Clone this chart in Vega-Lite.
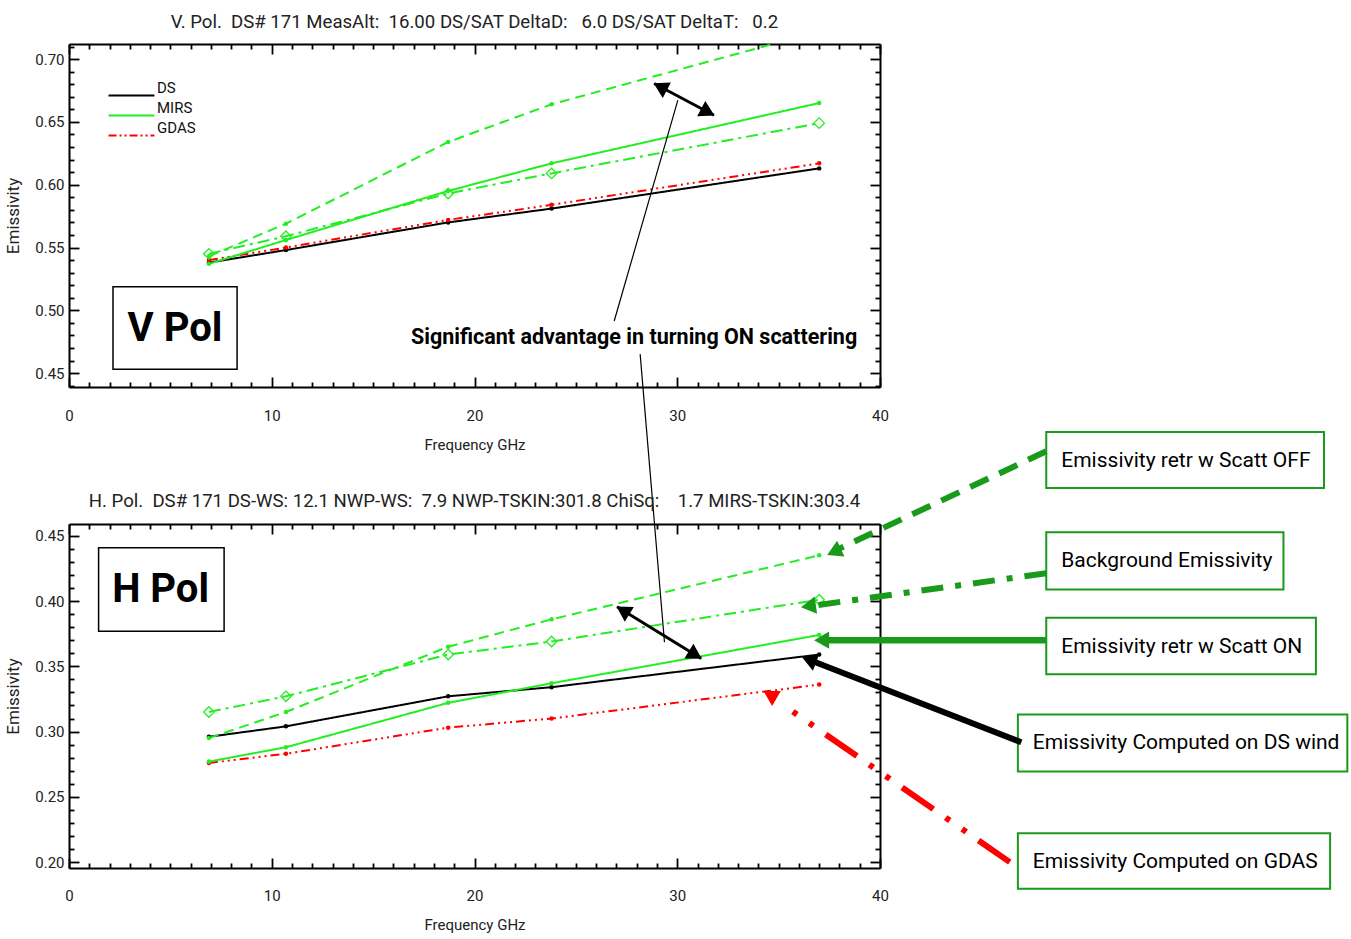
{
  "$schema": "https://vega.github.io/schema/vega-lite/v6.json",
  "background": "white",
  "padding": {"left": 4, "top": 12, "right": 2, "bottom": 2},
  "config": {
    "font": "Roboto",
    "view": {"stroke": null},
    "axis": {"domainColor": "#000", "domainWidth": 2, "tickColor": "#000", "tickWidth": 1.8, "labelFont": "Roboto", "labelFontSize": 15, "labelColor": "#222", "titleFont": "Roboto", "titleFontSize": 15, "titleFontWeight": "normal", "titleColor": "#222", "grid": false},
    "title": {"font": "Roboto", "fontSize": 18.6, "fontWeight": "normal", "color": "#222", "frame": "group", "baseline": "alphabetic"}
  },
  "datasets": {
    "series": [
      {"pol": "V", "source": "DS", "retrieval": "DS wind", "freq": 6.9, "emis": 0.538},
      {"pol": "V", "source": "DS", "retrieval": "DS wind", "freq": 10.7, "emis": 0.548},
      {"pol": "V", "source": "DS", "retrieval": "DS wind", "freq": 18.7, "emis": 0.570},
      {"pol": "V", "source": "DS", "retrieval": "DS wind", "freq": 23.8, "emis": 0.581},
      {"pol": "V", "source": "DS", "retrieval": "DS wind", "freq": 37.0, "emis": 0.613},
      {"pol": "V", "source": "GDAS", "retrieval": "GDAS", "freq": 6.9, "emis": 0.540},
      {"pol": "V", "source": "GDAS", "retrieval": "GDAS", "freq": 10.7, "emis": 0.550},
      {"pol": "V", "source": "GDAS", "retrieval": "GDAS", "freq": 18.7, "emis": 0.572},
      {"pol": "V", "source": "GDAS", "retrieval": "GDAS", "freq": 23.8, "emis": 0.584},
      {"pol": "V", "source": "GDAS", "retrieval": "GDAS", "freq": 37.0, "emis": 0.617},
      {"pol": "V", "source": "MIRS", "retrieval": "Scatt ON", "freq": 6.9, "emis": 0.537},
      {"pol": "V", "source": "MIRS", "retrieval": "Scatt ON", "freq": 10.7, "emis": 0.556},
      {"pol": "V", "source": "MIRS", "retrieval": "Scatt ON", "freq": 18.7, "emis": 0.595},
      {"pol": "V", "source": "MIRS", "retrieval": "Scatt ON", "freq": 23.8, "emis": 0.617},
      {"pol": "V", "source": "MIRS", "retrieval": "Scatt ON", "freq": 37.0, "emis": 0.665},
      {"pol": "V", "source": "MIRS", "retrieval": "Scatt OFF", "freq": 6.9, "emis": 0.543},
      {"pol": "V", "source": "MIRS", "retrieval": "Scatt OFF", "freq": 10.7, "emis": 0.569},
      {"pol": "V", "source": "MIRS", "retrieval": "Scatt OFF", "freq": 18.7, "emis": 0.634},
      {"pol": "V", "source": "MIRS", "retrieval": "Scatt OFF", "freq": 23.8, "emis": 0.664},
      {"pol": "V", "source": "MIRS", "retrieval": "Scatt OFF", "freq": 37.0, "emis": 0.722},
      {"pol": "V", "source": "MIRS", "retrieval": "Background", "freq": 6.9, "emis": 0.545},
      {"pol": "V", "source": "MIRS", "retrieval": "Background", "freq": 10.7, "emis": 0.559},
      {"pol": "V", "source": "MIRS", "retrieval": "Background", "freq": 18.7, "emis": 0.593},
      {"pol": "V", "source": "MIRS", "retrieval": "Background", "freq": 23.8, "emis": 0.609},
      {"pol": "V", "source": "MIRS", "retrieval": "Background", "freq": 37.0, "emis": 0.649},
      {"pol": "H", "source": "DS", "retrieval": "DS wind", "freq": 6.9, "emis": 0.296},
      {"pol": "H", "source": "DS", "retrieval": "DS wind", "freq": 10.7, "emis": 0.304},
      {"pol": "H", "source": "DS", "retrieval": "DS wind", "freq": 18.7, "emis": 0.327},
      {"pol": "H", "source": "DS", "retrieval": "DS wind", "freq": 23.8, "emis": 0.334},
      {"pol": "H", "source": "DS", "retrieval": "DS wind", "freq": 37.0, "emis": 0.359},
      {"pol": "H", "source": "GDAS", "retrieval": "GDAS", "freq": 6.9, "emis": 0.276},
      {"pol": "H", "source": "GDAS", "retrieval": "GDAS", "freq": 10.7, "emis": 0.283},
      {"pol": "H", "source": "GDAS", "retrieval": "GDAS", "freq": 18.7, "emis": 0.303},
      {"pol": "H", "source": "GDAS", "retrieval": "GDAS", "freq": 23.8, "emis": 0.310},
      {"pol": "H", "source": "GDAS", "retrieval": "GDAS", "freq": 37.0, "emis": 0.336},
      {"pol": "H", "source": "MIRS", "retrieval": "Scatt ON", "freq": 6.9, "emis": 0.277},
      {"pol": "H", "source": "MIRS", "retrieval": "Scatt ON", "freq": 10.7, "emis": 0.288},
      {"pol": "H", "source": "MIRS", "retrieval": "Scatt ON", "freq": 18.7, "emis": 0.322},
      {"pol": "H", "source": "MIRS", "retrieval": "Scatt ON", "freq": 23.8, "emis": 0.337},
      {"pol": "H", "source": "MIRS", "retrieval": "Scatt ON", "freq": 37.0, "emis": 0.374},
      {"pol": "H", "source": "MIRS", "retrieval": "Scatt OFF", "freq": 6.9, "emis": 0.295},
      {"pol": "H", "source": "MIRS", "retrieval": "Scatt OFF", "freq": 10.7, "emis": 0.315},
      {"pol": "H", "source": "MIRS", "retrieval": "Scatt OFF", "freq": 18.7, "emis": 0.365},
      {"pol": "H", "source": "MIRS", "retrieval": "Scatt OFF", "freq": 23.8, "emis": 0.386},
      {"pol": "H", "source": "MIRS", "retrieval": "Scatt OFF", "freq": 37.0, "emis": 0.435},
      {"pol": "H", "source": "MIRS", "retrieval": "Background", "freq": 6.9, "emis": 0.315},
      {"pol": "H", "source": "MIRS", "retrieval": "Background", "freq": 10.7, "emis": 0.327},
      {"pol": "H", "source": "MIRS", "retrieval": "Background", "freq": 18.7, "emis": 0.359},
      {"pol": "H", "source": "MIRS", "retrieval": "Background", "freq": 23.8, "emis": 0.369},
      {"pol": "H", "source": "MIRS", "retrieval": "Background", "freq": 37.0, "emis": 0.401}
    ],
    "polboxes": [
      {"pol": "V", "label": "V Pol", "x": 2.17, "x2": 8.29, "y": 0.5187, "y2": 0.4532},
      {"pol": "H", "label": "H Pol", "x": 1.46, "x2": 7.65, "y": 0.4408, "y2": 0.3769}
    ],
    "callout": [
      {"pol": "V", "label": "Significant advantage in turning ON scattering", "x": 27.87, "y": 0.478}
    ],
    "notes": [
      {"note": "Emissivity retr w Scatt OFF", "x": 48.2, "x2": 61.9, "y": 0.5295, "y2": 0.4866},
      {"note": "Background Emissivity", "x": 48.2, "x2": 59.9, "y": 0.4526, "y2": 0.4089},
      {"note": "Emissivity retr w Scatt ON", "x": 48.2, "x2": 61.5, "y": 0.3871, "y2": 0.3439},
      {"note": "Emissivity Computed on DS wind", "x": 46.8, "x2": 63.05, "y": 0.3131, "y2": 0.2694},
      {"note": "Emissivity Computed on GDAS", "x": 46.8, "x2": 62.2, "y": 0.2222, "y2": 0.1796}
    ],
    "segments": [
      {"pol": "V", "arrow": "double", "x": 28.86, "y": 0.6806, "x2": 31.81, "y2": 0.6553},
      {"pol": "V", "arrow": "pointer", "x": 26.89, "y": 0.4915, "x2": 30.03, "y2": 0.6673},
      {"pol": "V", "arrow": "pointer", "x": 28.17, "y": 0.4652, "x2": 29.37, "y2": 0.2359},
      {"pol": "H", "arrow": "double", "x": 27.03, "y": 0.3956, "x2": 31.18, "y2": 0.356},
      {"pol": "H", "arrow": "Scatt OFF", "x": 48.2, "y": 0.5147, "x2": 37.7, "y2": 0.438},
      {"pol": "H", "arrow": "Background", "x": 48.2, "y": 0.4213, "x2": 36.5, "y2": 0.396},
      {"pol": "H", "arrow": "Scatt ON", "x": 48.2, "y": 0.37, "x2": 37.1, "y2": 0.37},
      {"pol": "H", "arrow": "DS wind", "x": 46.97, "y": 0.2918, "x2": 36.5, "y2": 0.355},
      {"pol": "H", "arrow": "GDAS", "x": 46.4, "y": 0.2, "x2": 35.47, "y2": 0.3178}
    ],
    "heads": [
      {"pol": "V", "arrow": "double-a", "x": 29.16, "y": 0.678},
      {"pol": "V", "arrow": "double-b", "x": 31.51, "y": 0.6578},
      {"pol": "H", "arrow": "double-a", "x": 27.32, "y": 0.3928},
      {"pol": "H", "arrow": "double-b", "x": 30.89, "y": 0.3587},
      {"pol": "H", "arrow": "Scatt OFF", "x": 37.73, "y": 0.4377},
      {"pol": "H", "arrow": "Background", "x": 36.47, "y": 0.3961},
      {"pol": "H", "arrow": "Scatt ON", "x": 37.12, "y": 0.37},
      {"pol": "H", "arrow": "DS wind", "x": 36.5, "y": 0.3549},
      {"pol": "H", "arrow": "GDAS", "x": 34.68, "y": 0.3254}
    ]
  },
  "spacing": 137,
  "bounds": "flush",
  "resolve": {"legend": {"color": "independent"}},
  "vconcat": [
    {
      "width": 811,
      "height": 343,
      "title": {"text": "V. Pol.\u00a0 DS# 171 MeasAlt:\u00a0 16.00 DS/SAT DeltaD:\u00a0\u00a0 6.0 DS/SAT DeltaT:\u00a0\u00a0 0.2", "offset": 8},
      "resolve": {"axis": {"x": "independent", "y": "independent"}},
      "encoding": {
        "x": {"field": "x", "type": "quantitative", "scale": {"domain": [0, 40], "nice": false, "zero": false}, "axis": null},
        "y": {"field": "y", "type": "quantitative", "scale": {"domain": [0.439, 0.712], "nice": false, "zero": false}, "axis": null}
      },
      "layer": [
        {
          "data": {"name": "series"},
          "transform": [{"filter": "datum.pol === 'V'"}],
          "mark": {"type": "line", "clip": true},
          "encoding": {
            "x": {"field": "freq", "type": "quantitative", "scale": {"domain": [0, 40], "nice": false, "zero": false},
              "axis": {"orient": "bottom", "values": [0,1,2,3,4,5,6,7,8,9,10,11,12,13,14,15,16,17,18,19,20,21,22,23,24,25,26,27,28,29,30,31,32,33,34,35,36,37,38,39,40], "labelExpr": "datum.value % 10 === 0 ? datum.label : ''", "tickSize": {"condition": {"test": "datum.value % 10 === 0", "value": -10}, "value": -5}, "labelPadding": 31, "title": "Frequency GHz", "titlePadding": 9, "labelFlush": false, "labelOverlap": false, "labelBound": false}},
            "y": {"field": "emis", "type": "quantitative", "scale": {"domain": [0.439, 0.712], "nice": false, "zero": false},
              "axis": {"orient": "left", "values": [0.44,0.45,0.46,0.47,0.48,0.49,0.5,0.51,0.52,0.53,0.54,0.55,0.56,0.57,0.58,0.59,0.6,0.61,0.62,0.63,0.64,0.65,0.66,0.67,0.68,0.69,0.7,0.71], "format": ".2f", "labelExpr": "abs(datum.value*20 - round(datum.value*20)) < 0.001 ? datum.label : ''", "tickSize": {"condition": {"test": "abs(datum.value*20 - round(datum.value*20)) < 0.001", "value": -10}, "value": -5}, "labelPadding": 15, "title": "Emissivity", "titleFontSize": 17, "titlePadding": 12, "labelFlush": false, "labelOverlap": false, "labelBound": false}},
            "color": {"field": "source", "type": "nominal", "scale": {"domain": ["DS", "MIRS", "GDAS"], "range": ["#000000", "#22ee22", "#ff0000"]},
              "legend": {"orient": "none", "legendX": 53, "legendY": 42, "title": null, "symbolType": "M-2.7,0H2.7", "symbolSize": 289, "symbolStrokeWidth": 2, "labelFont": "Roboto", "labelFontSize": 15, "labelColor": "#111", "labelOffset": 16, "labelBaseline": "bottom", "rowPadding": 0,
                "encode": {"symbols": {"update": {"strokeDash": {"signal": "datum.value === 'GDAS' ? [8,3,2,3,2,3] : [1,0]"}}}}}},
            "strokeDash": {"field": "retrieval", "type": "nominal", "scale": {"domain": ["DS wind", "GDAS", "Scatt ON", "Scatt OFF", "Background"], "range": [[1,0],[9,4,2,4,2,4,2,4],[1,0],[10,6],[12,5,3,5]]}, "legend": null},
            "strokeWidth": {"field": "retrieval", "type": "ordinal", "scale": {"domain": ["DS wind", "GDAS", "Scatt ON", "Scatt OFF", "Background"], "range": [2, 2, 2.5, 2.5, 1.5]}, "legend": null}
          }
        },
        {
          "data": {"name": "series"},
          "transform": [{"filter": "datum.pol === 'V' && datum.retrieval !== 'Background'"}],
          "mark": {"type": "point", "filled": true, "size": 20, "opacity": 1, "clip": true},
          "encoding": {
            "x": {"field": "freq", "type": "quantitative", "scale": {"domain": [0, 40], "nice": false, "zero": false},
              "axis": {"orient": "top", "values": [0,1,2,3,4,5,6,7,8,9,10,11,12,13,14,15,16,17,18,19,20,21,22,23,24,25,26,27,28,29,30,31,32,33,34,35,36,37,38,39,40], "labels": false, "title": null, "tickSize": {"condition": {"test": "datum.value % 10 === 0", "value": -10}, "value": -5}}},
            "y": {"field": "emis", "type": "quantitative", "scale": {"domain": [0.439, 0.712], "nice": false, "zero": false},
              "axis": {"orient": "right", "values": [0.44,0.45,0.46,0.47,0.48,0.49,0.5,0.51,0.52,0.53,0.54,0.55,0.56,0.57,0.58,0.59,0.6,0.61,0.62,0.63,0.64,0.65,0.66,0.67,0.68,0.69,0.7,0.71], "labels": false, "title": null, "tickSize": {"condition": {"test": "abs(datum.value*20 - round(datum.value*20)) < 0.001", "value": -10}, "value": -5}}},
            "color": {"field": "source", "type": "nominal", "scale": {"domain": ["DS", "MIRS", "GDAS"], "range": ["#000000", "#22ee22", "#ff0000"]}, "legend": null}
          }
        },
        {
          "data": {"name": "series"},
          "transform": [{"filter": "datum.pol === 'V' && datum.retrieval === 'Background'"}],
          "mark": {"type": "point", "shape": "diamond", "filled": false, "size": 110, "strokeWidth": 1.3, "color": "#22ee22", "opacity": 1, "clip": true},
          "encoding": {
            "x": {"field": "freq", "type": "quantitative", "scale": {"domain": [0, 40], "nice": false, "zero": false}, "axis": null},
            "y": {"field": "emis", "type": "quantitative", "scale": {"domain": [0.439, 0.712], "nice": false, "zero": false}, "axis": null}
          }
        },
        {
          "data": {"name": "polboxes"},
          "transform": [{"filter": "datum.pol === 'V'"}],
          "mark": {"type": "rect", "fill": "white", "stroke": "#000", "strokeWidth": 1.5},
          "encoding": {"x2": {"field": "x2"}, "y2": {"field": "y2"}}
        },
        {
          "data": {"name": "polboxes"},
          "transform": [{"filter": "datum.pol === 'V'"}],
          "mark": {"type": "text", "align": "center", "baseline": "middle", "dx": 62, "dy": 42, "fontSize": 40, "fontWeight": "bold", "font": "Roboto", "color": "#000"},
          "encoding": {"text": {"field": "label"}}
        },
        {
          "data": {"name": "callout"},
          "mark": {"type": "text", "align": "center", "baseline": "middle", "fontSize": 21.5, "fontWeight": "bold", "font": "Roboto", "color": "#000"},
          "encoding": {"text": {"field": "label"}}
        },
        {
          "data": {"name": "segments"},
          "transform": [{"filter": "datum.pol === 'V' && datum.arrow === 'double'"}],
          "mark": {"type": "rule", "color": "#000", "strokeWidth": 3},
          "encoding": {"x2": {"field": "x2"}, "y2": {"field": "y2"}}
        },
        {
          "data": {"name": "segments"},
          "transform": [{"filter": "datum.pol === 'V' && datum.arrow === 'pointer'"}],
          "mark": {"type": "rule", "color": "#000", "strokeWidth": 1.2},
          "encoding": {"x2": {"field": "x2"}, "y2": {"field": "y2"}}
        },
        {
          "data": {"name": "heads"},
          "transform": [{"filter": "datum.pol === 'V' && datum.arrow === 'double-a'"}],
          "mark": {"type": "point", "shape": "triangle-up", "filled": true, "size": 300, "angle": -62, "color": "#000", "opacity": 1}
        },
        {
          "data": {"name": "heads"},
          "transform": [{"filter": "datum.pol === 'V' && datum.arrow === 'double-b'"}],
          "mark": {"type": "point", "shape": "triangle-up", "filled": true, "size": 300, "angle": 118, "color": "#000", "opacity": 1}
        }
      ]
    },
    {
      "width": 811,
      "height": 344,
      "title": {"text": "H. Pol.\u00a0 DS# 171 DS-WS: 12.1 NWP-WS:\u00a0 7.9 NWP-TSKIN:301.8 ChiSq:\u00a0\u00a0\u00a0 1.7 MIRS-TSKIN:303.4", "offset": -80},
      "resolve": {"axis": {"x": "independent", "y": "independent"}},
      "encoding": {
        "x": {"field": "x", "type": "quantitative", "scale": {"domain": [0, 40], "nice": false, "zero": false}, "axis": null},
        "y": {"field": "y", "type": "quantitative", "scale": {"domain": [0.1955, 0.459], "nice": false, "zero": false}, "axis": null}
      },
      "layer": [
        {
          "data": {"name": "series"},
          "transform": [{"filter": "datum.pol === 'H'"}],
          "mark": {"type": "line", "clip": true},
          "encoding": {
            "x": {"field": "freq", "type": "quantitative", "scale": {"domain": [0, 40], "nice": false, "zero": false},
              "axis": {"orient": "bottom", "values": [0,1,2,3,4,5,6,7,8,9,10,11,12,13,14,15,16,17,18,19,20,21,22,23,24,25,26,27,28,29,30,31,32,33,34,35,36,37,38,39,40], "labelExpr": "datum.value % 10 === 0 ? datum.label : ''", "tickSize": {"condition": {"test": "datum.value % 10 === 0", "value": -10}, "value": -5}, "labelPadding": 30, "title": "Frequency GHz", "titlePadding": 9, "labelFlush": false, "labelOverlap": false, "labelBound": false}},
            "y": {"field": "emis", "type": "quantitative", "scale": {"domain": [0.1955, 0.459], "nice": false, "zero": false},
              "axis": {"orient": "left", "values": [0.2,0.21,0.22,0.23,0.24,0.25,0.26,0.27,0.28,0.29,0.3,0.31,0.32,0.33,0.34,0.35,0.36,0.37,0.38,0.39,0.4,0.41,0.42,0.43,0.44,0.45], "format": ".2f", "labelExpr": "abs(datum.value*20 - round(datum.value*20)) < 0.001 ? datum.label : ''", "tickSize": {"condition": {"test": "abs(datum.value*20 - round(datum.value*20)) < 0.001", "value": -10}, "value": -5}, "labelPadding": 15, "title": "Emissivity", "titleFontSize": 17, "titlePadding": 12, "labelFlush": false, "labelOverlap": false, "labelBound": false}},
            "color": {"field": "source", "type": "nominal", "scale": {"domain": ["DS", "MIRS", "GDAS"], "range": ["#000000", "#22ee22", "#ff0000"]}, "legend": null},
            "strokeDash": {"field": "retrieval", "type": "nominal", "scale": {"domain": ["DS wind", "GDAS", "Scatt ON", "Scatt OFF", "Background"], "range": [[1,0],[9,4,2,4,2,4,2,4],[1,0],[10,6],[12,5,3,5]]}, "legend": null},
            "strokeWidth": {"field": "retrieval", "type": "ordinal", "scale": {"domain": ["DS wind", "GDAS", "Scatt ON", "Scatt OFF", "Background"], "range": [2, 2, 2.5, 2.5, 1.5]}, "legend": null}
          }
        },
        {
          "data": {"name": "series"},
          "transform": [{"filter": "datum.pol === 'H' && datum.retrieval !== 'Background'"}],
          "mark": {"type": "point", "filled": true, "size": 20, "opacity": 1, "clip": true},
          "encoding": {
            "x": {"field": "freq", "type": "quantitative", "scale": {"domain": [0, 40], "nice": false, "zero": false},
              "axis": {"orient": "top", "values": [0,1,2,3,4,5,6,7,8,9,10,11,12,13,14,15,16,17,18,19,20,21,22,23,24,25,26,27,28,29,30,31,32,33,34,35,36,37,38,39,40], "labels": false, "title": null, "tickSize": {"condition": {"test": "datum.value % 10 === 0", "value": -10}, "value": -5}}},
            "y": {"field": "emis", "type": "quantitative", "scale": {"domain": [0.1955, 0.459], "nice": false, "zero": false},
              "axis": {"orient": "right", "values": [0.2,0.21,0.22,0.23,0.24,0.25,0.26,0.27,0.28,0.29,0.3,0.31,0.32,0.33,0.34,0.35,0.36,0.37,0.38,0.39,0.4,0.41,0.42,0.43,0.44,0.45], "labels": false, "title": null, "tickSize": {"condition": {"test": "abs(datum.value*20 - round(datum.value*20)) < 0.001", "value": -10}, "value": -5}}},
            "color": {"field": "source", "type": "nominal", "scale": {"domain": ["DS", "MIRS", "GDAS"], "range": ["#000000", "#22ee22", "#ff0000"]}, "legend": null}
          }
        },
        {
          "data": {"name": "series"},
          "transform": [{"filter": "datum.pol === 'H' && datum.retrieval === 'Background'"}],
          "mark": {"type": "point", "shape": "diamond", "filled": false, "size": 110, "strokeWidth": 1.3, "color": "#22ee22", "opacity": 1, "clip": true},
          "encoding": {
            "x": {"field": "freq", "type": "quantitative", "scale": {"domain": [0, 40], "nice": false, "zero": false}, "axis": null},
            "y": {"field": "emis", "type": "quantitative", "scale": {"domain": [0.1955, 0.459], "nice": false, "zero": false}, "axis": null}
          }
        },
        {
          "data": {"name": "polboxes"},
          "transform": [{"filter": "datum.pol === 'H'"}],
          "mark": {"type": "rect", "fill": "white", "stroke": "#000", "strokeWidth": 1.5},
          "encoding": {"x2": {"field": "x2"}, "y2": {"field": "y2"}}
        },
        {
          "data": {"name": "polboxes"},
          "transform": [{"filter": "datum.pol === 'H'"}],
          "mark": {"type": "text", "align": "center", "baseline": "middle", "dx": 62, "dy": 42, "fontSize": 40, "fontWeight": "bold", "font": "Roboto", "color": "#000"},
          "encoding": {"text": {"field": "label"}}
        },
        {
          "data": {"name": "notes"},
          "mark": {"type": "rect", "fill": "white", "stroke": "#1a9a1a", "strokeWidth": 2, "clip": false},
          "encoding": {"x2": {"field": "x2"}, "y2": {"field": "y2"}}
        },
        {
          "data": {"name": "notes"},
          "mark": {"type": "text", "align": "left", "baseline": "middle", "dx": 15, "dy": 29, "fontSize": 21, "font": "Roboto", "color": "#000"},
          "encoding": {"text": {"field": "note"}}
        },
        {
          "data": {"name": "segments"},
          "transform": [{"filter": "datum.pol === 'H' && datum.arrow === 'double'"}],
          "mark": {"type": "rule", "color": "#000", "strokeWidth": 3},
          "encoding": {"x2": {"field": "x2"}, "y2": {"field": "y2"}}
        },
        {
          "data": {"name": "segments"},
          "transform": [{"filter": "datum.arrow === 'Scatt OFF'"}],
          "mark": {"type": "rule", "color": "#1a9a1a", "strokeWidth": 6, "strokeDash": [20, 12]},
          "encoding": {"x2": {"field": "x2"}, "y2": {"field": "y2"}}
        },
        {
          "data": {"name": "segments"},
          "transform": [{"filter": "datum.arrow === 'Background'"}],
          "mark": {"type": "rule", "color": "#1a9a1a", "strokeWidth": 6, "strokeDash": [22, 12, 6, 12]},
          "encoding": {"x2": {"field": "x2"}, "y2": {"field": "y2"}}
        },
        {
          "data": {"name": "segments"},
          "transform": [{"filter": "datum.arrow === 'Scatt ON'"}],
          "mark": {"type": "rule", "color": "#1a9a1a", "strokeWidth": 6.5},
          "encoding": {"x2": {"field": "x2"}, "y2": {"field": "y2"}}
        },
        {
          "data": {"name": "segments"},
          "transform": [{"filter": "datum.arrow === 'DS wind'"}],
          "mark": {"type": "rule", "color": "#000", "strokeWidth": 6},
          "encoding": {"x2": {"field": "x2"}, "y2": {"field": "y2"}}
        },
        {
          "data": {"name": "segments"},
          "transform": [{"filter": "datum.arrow === 'GDAS'"}],
          "mark": {"type": "rule", "color": "#ff0000", "strokeWidth": 6, "strokeDash": [38, 15, 5, 15, 5, 15]},
          "encoding": {"x2": {"field": "x2"}, "y2": {"field": "y2"}}
        },
        {
          "data": {"name": "heads"},
          "transform": [{"filter": "datum.pol === 'H' && datum.arrow === 'double-a'"}],
          "mark": {"type": "point", "shape": "triangle-up", "filled": true, "size": 300, "angle": -58.5, "color": "#000", "opacity": 1}
        },
        {
          "data": {"name": "heads"},
          "transform": [{"filter": "datum.pol === 'H' && datum.arrow === 'double-b'"}],
          "mark": {"type": "point", "shape": "triangle-up", "filled": true, "size": 300, "angle": 121.5, "color": "#000", "opacity": 1}
        },
        {
          "data": {"name": "heads"},
          "transform": [{"filter": "datum.arrow === 'Scatt OFF'"}],
          "mark": {"type": "point", "shape": "triangle-up", "filled": true, "size": 300, "angle": -115, "color": "#1a9a1a", "opacity": 1}
        },
        {
          "data": {"name": "heads"},
          "transform": [{"filter": "datum.arrow === 'Background'"}],
          "mark": {"type": "point", "shape": "triangle-up", "filled": true, "size": 300, "angle": -98, "color": "#1a9a1a", "opacity": 1}
        },
        {
          "data": {"name": "heads"},
          "transform": [{"filter": "datum.arrow === 'Scatt ON'"}],
          "mark": {"type": "point", "shape": "triangle-up", "filled": true, "size": 300, "angle": -90, "color": "#1a9a1a", "opacity": 1}
        },
        {
          "data": {"name": "heads"},
          "transform": [{"filter": "datum.arrow === 'DS wind'"}],
          "mark": {"type": "point", "shape": "triangle-up", "filled": true, "size": 300, "angle": -69, "color": "#000", "opacity": 1}
        },
        {
          "data": {"name": "heads"},
          "transform": [{"filter": "datum.arrow === 'GDAS'"}],
          "mark": {"type": "point", "shape": "triangle-up", "filled": true, "size": 300, "angle": 180, "color": "#ff0000", "opacity": 1}
        }
      ]
    }
  ]
}
